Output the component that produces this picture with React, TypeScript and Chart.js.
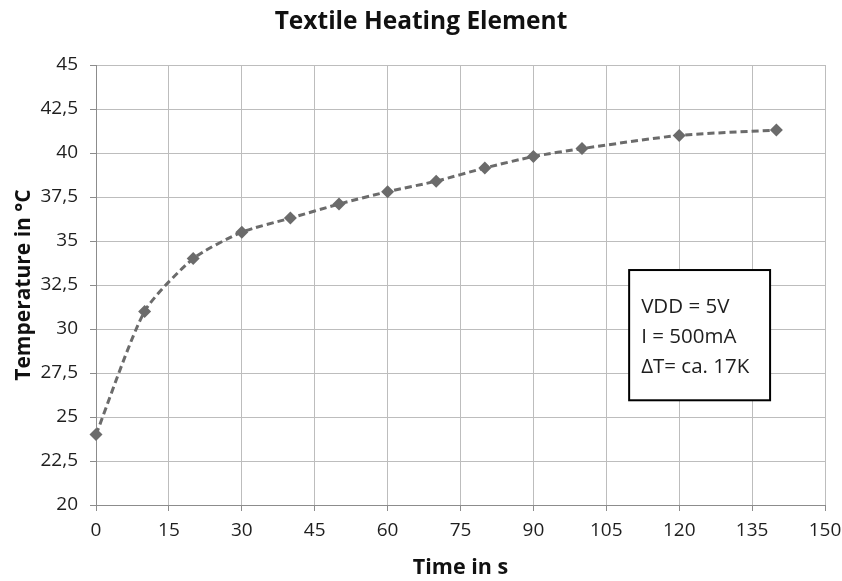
import React, { useEffect, useRef } from "react";
import { Chart, registerables } from "chart.js";

Chart.register(...registerables);

const chartTitle = "Textile Heating Element";
const xTitle = "Time in s";
const yTitle = "Temperature in °C";
const timeValues = [0, 10, 20, 30, 40, 50, 60, 70, 80, 90, 100, 120, 140];
const tempValues = [24, 31, 34, 35.5, 36.3, 37.1, 37.8, 38.4, 39.15, 39.8, 40.25, 41.0, 41.3];
const noteLines = ["VDD = 5V", "I = 500mA", "ΔT= ca. 17K"];
// note box corners in data units (x: time, y: temperature)
const noteBoxX = [109.7, 138.7];
const noteBoxY = [33.35, 25.95];

const FONT = "'Open Sans', sans-serif";
const INK = "#1e1e1e";
const SERIES = "#6b6b6b";

const notePlugin = {
  id: "noteBox",
  afterDatasetsDraw(chart: any) {
    const { ctx, scales } = chart;
    const x0 = scales.x.getPixelForValue(noteBoxX[0]);
    const x1 = scales.x.getPixelForValue(noteBoxX[1]);
    const y0 = scales.y.getPixelForValue(noteBoxY[0]);
    const y1 = scales.y.getPixelForValue(noteBoxY[1]);
    ctx.save();
    ctx.fillStyle = "#ffffff";
    ctx.fillRect(x0, y0, x1 - x0, y1 - y0);
    ctx.strokeStyle = "#000000";
    ctx.lineWidth = 2;
    ctx.strokeRect(x0, y0, x1 - x0, y1 - y0);
    ctx.fillStyle = INK;
    ctx.font = `20.5px ${FONT}`;
    ctx.textBaseline = "middle";
    ctx.textAlign = "left";
    const lh = 30;
    const cy = (y0 + y1) / 2;
    noteLines.forEach((t, i) => {
      ctx.fillText(t, x0 + 12, cy + (i - (noteLines.length - 1) / 2) * lh + 2);
    });
    ctx.restore();
  },
};

export default function App() {
  const ref = useRef<HTMLCanvasElement | null>(null);
  useEffect(() => {
    document.body.style.margin = "0";
    const chart = new Chart(ref.current as HTMLCanvasElement, {
      type: "line",
      data: {
        datasets: [
          {
            data: timeValues.map((t, i) => ({ x: t, y: tempValues[i] })),
            borderColor: SERIES,
            backgroundColor: SERIES,
            borderWidth: 3,
            borderDash: [7, 4],
            tension: 0.22,
            pointStyle: "rectRot",
            pointRadius: 6.5,
            pointBorderWidth: 0,
            pointBackgroundColor: SERIES,
            fill: false,
            clip: false,
          },
        ],
      },
      options: {
        animation: false,
        responsive: false,
        maintainAspectRatio: false,
        layout: { padding: { top: 0, right: 17, bottom: 0, left: 17 } },
        plugins: {
          legend: { display: false },
          tooltip: { enabled: false },
          title: {
            display: true,
            text: chartTitle,
            color: "#111111",
            font: { family: FONT, size: 24.5, weight: "bold" },
            padding: { top: 7, bottom: 28.6 },
          },
        },
        scales: {
          x: {
            type: "linear",
            min: 0,
            max: 150,
            afterFit: (s: any) => {
              s.height = 76;
              s.paddingRight = 0;
              s.paddingLeft = 0;
            },
            ticks: {
              stepSize: 15,
              color: INK,
              font: { family: FONT, size: 19 },
              padding: 8,
              maxRotation: 0,
            },
            grid: { color: "#bdbdbd", lineWidth: 1, tickLength: 6, tickColor: "#8c8c8c" },
            border: { color: "#8c8c8c", width: 1 },
            title: {
              display: true,
              text: xTitle,
              color: "#111111",
              font: { family: FONT, size: 21.5, weight: "bold" },
              padding: { top: 0, bottom: 0 },
            },
          },
          y: {
            type: "linear",
            min: 20,
            max: 45,
            afterFit: (s: any) => {
              s.width = 79;
            },
            ticks: {
              stepSize: 2.5,
              color: INK,
              font: { family: FONT, size: 19 },
              padding: 12,
              callback: (v: any) => String(v).replace(".", ","),
            },
            grid: { color: "#bdbdbd", lineWidth: 1, tickLength: 6, tickColor: "#8c8c8c" },
            border: { color: "#8c8c8c", width: 1 },
            title: {
              display: true,
              text: yTitle,
              color: "#111111",
              font: { family: FONT, size: 21, weight: "bold" },
              padding: { top: -6, bottom: 0 },
            },
          },
        },
      },
      plugins: [notePlugin],
    });
    return () => chart.destroy();
  }, []);
  return (
    <div style={{ width: 842, height: 581 }}>
      <canvas ref={ref} width={842} height={581} style={{ display: "block" }} />
    </div>
  );
}
